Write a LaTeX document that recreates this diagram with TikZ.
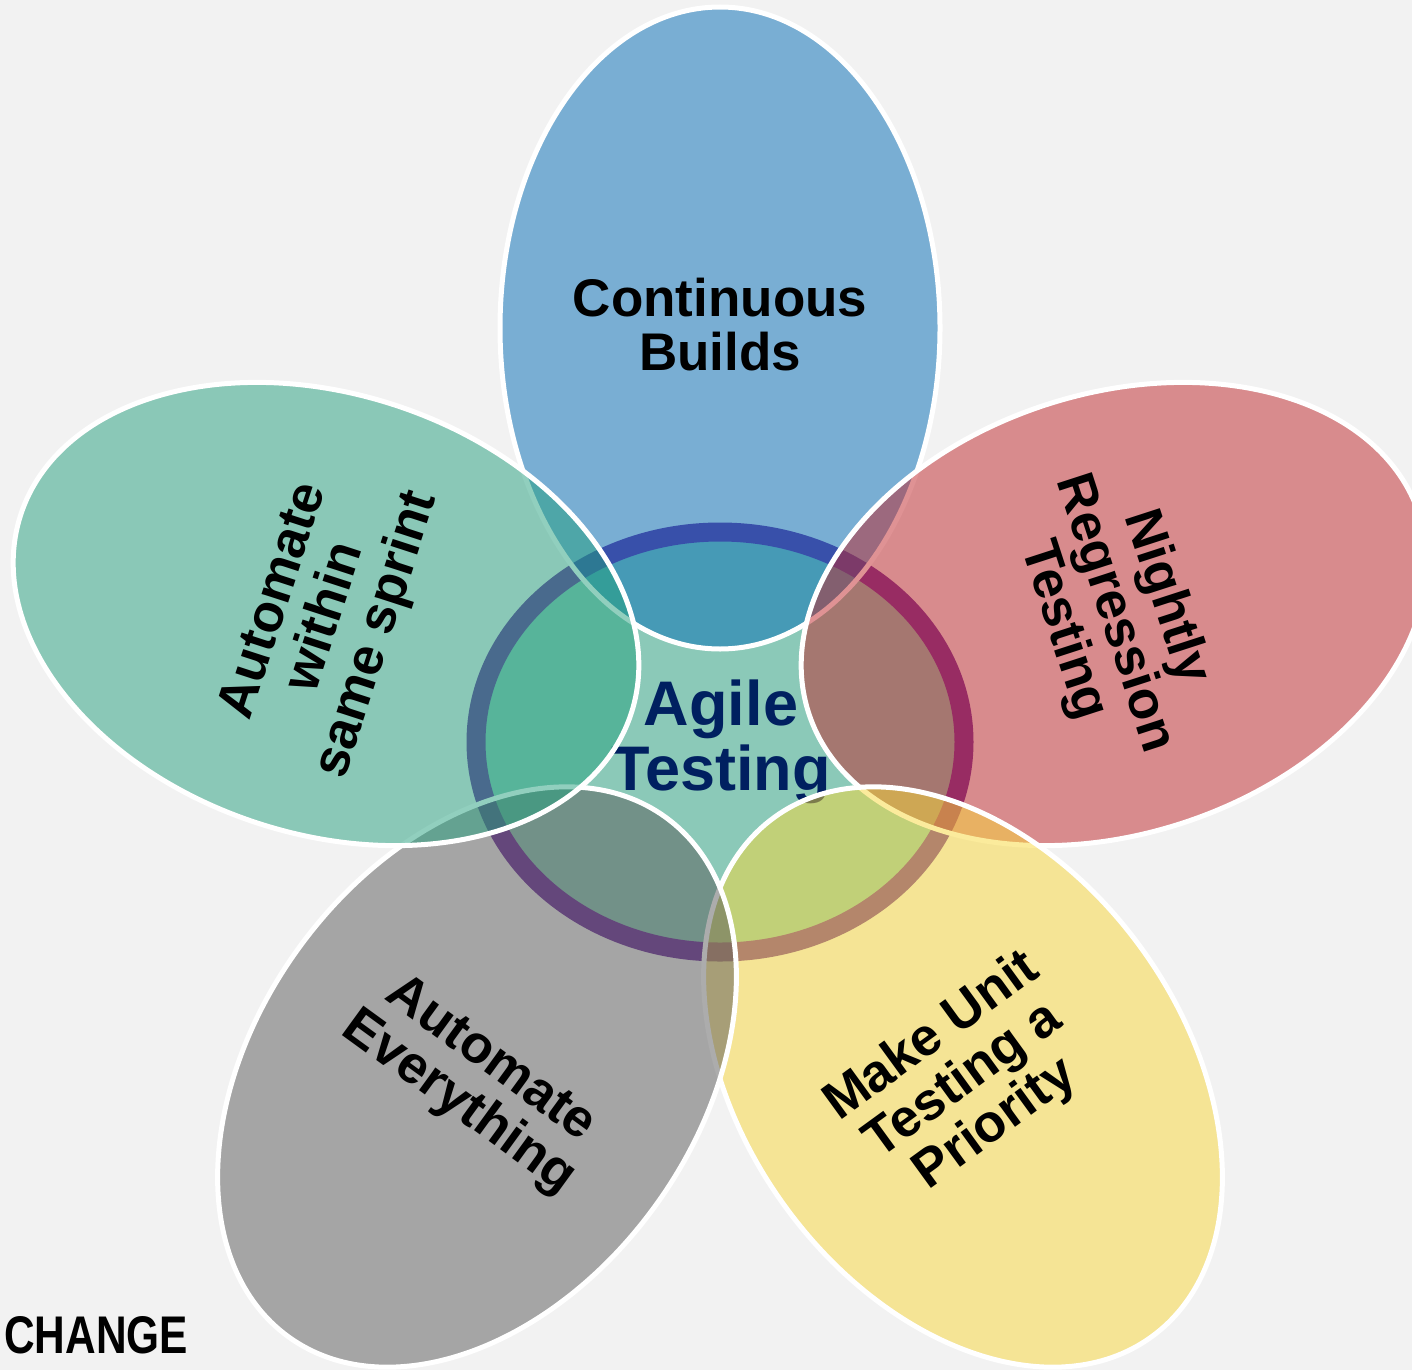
\documentclass[tikz,border=0pt]{standalone}
\usepackage{fontspec}
\setmainfont{Liberation Sans}
\newfontfamily\changefont[FakeStretch=0.8]{Liberation Sans}
\definecolor{bgc}{RGB}{242,242,242}
\definecolor{cblue}{RGB}{2,108,182}
\definecolor{cred}{RGB}{192,38,42}
\definecolor{cyellow}{RGB}{248,216,58}
\definecolor{cgray}{RGB}{90,90,90}
\definecolor{cgreen}{RGB}{36,160,126}
\definecolor{cring}{RGB}{112,52,158}
\definecolor{cfill}{RGB}{139,201,184}
\definecolor{cnavy}{RGB}{0,32,96}
\begin{document}
\begin{tikzpicture}[x=1pt,y=-1pt,
  petal/.style={draw=white, line width=5pt, fill opacity=0.5},
  ptext/.style={font=\fontsize{53}{54}\selectfont\bfseries, align=center, text=black, inner sep=0pt},
  htext/.style={font=\fontsize{63}{65}\selectfont\bfseries, align=center, text=cnavy, inner sep=0pt}]
\fill[bgc] (0,0) rectangle (1412,1370);
\path[use as bounding box] (0,0) rectangle (1412,1370);
% central ring
\begin{scope}[shift={(720,742)}]
  \filldraw[fill=cfill, draw=cring, line width=19pt] (0,0) ellipse[x radius=244pt, y radius=210pt];
\end{scope}
\node[htext] (hub) at (721,742) {Agile\\Testing};
% petals
\begin{scope}[shift={(720,328)}]
  \filldraw[petal, fill=cblue] (0,0) ellipse[x radius=220pt, y radius=321pt];
\end{scope}
\begin{scope}[shift={(1114,614)}, rotate=-72]
  \filldraw[petal, fill=cred] (0,0) ellipse[x radius=220pt, y radius=321pt];
\end{scope}
\begin{scope}[shift={(963,1077)}, rotate=-144]
  \filldraw[petal, fill=cyellow] (0,0) ellipse[x radius=220pt, y radius=321pt];
\end{scope}
\begin{scope}[shift={(477,1077)}, rotate=144]
  \filldraw[petal, fill=cgray] (0,0) ellipse[x radius=220pt, y radius=321pt];
\end{scope}
\begin{scope}[shift={(326,614)}, rotate=72]
  \filldraw[petal, fill=cgreen] (0,0) ellipse[x radius=220pt, y radius=321pt];
\end{scope}
% petal texts
\node[ptext] (t1) at (720,325) {Continuous\\Builds};
\node[ptext, rotate=-72] (t2) at (1114,614) {Nightly\\Regression\\Testing};
\node[ptext, rotate=36] (t3) at (964,1081) {Make Unit\\Testing a\\Priority};
\node[ptext, rotate=-36] (t4) at (474,1082) {Automate\\Everything};
\node[ptext, rotate=72] (t5) at (327,618) {Automate\\within\\same sprint};
% logo
\node[anchor=base west, inner sep=0pt, font=\changefont\bfseries\fontsize{53}{53}\selectfont] (logo) at (4,1353) {CHANGE};
\end{tikzpicture}
\end{document}
